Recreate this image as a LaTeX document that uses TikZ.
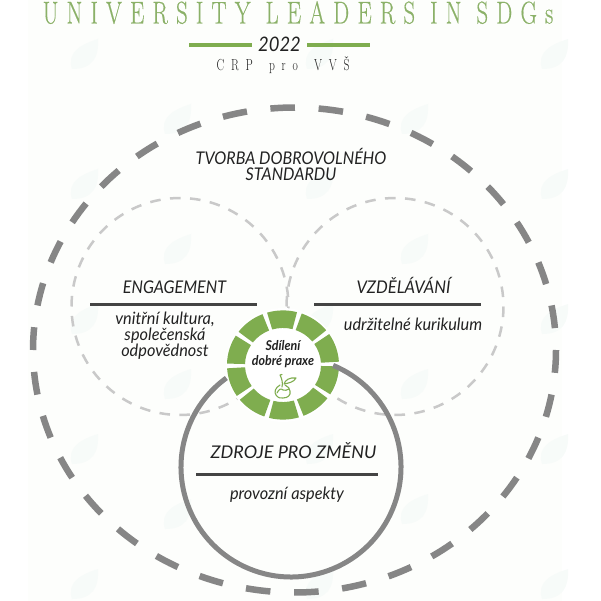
\documentclass[tikz,border=0pt]{standalone}
\usepackage{fontspec}
\setmainfont{Lato}
\newfontfamily\hand{Lato}[FakeStretch=0.92]
\newfontfamily\bodyfont{Lato}[FakeStretch=0.96]
\newfontfamily\titlefont{Latin Modern Roman}[LetterSpace=26,FakeStretch=0.72,FakeBold=0.35]
\newfontfamily\subfont{Latin Modern Roman}[LetterSpace=42,FakeStretch=0.72,WordSpace=1.6]
\definecolor{leafgreen}{HTML}{7FAD4F}
\definecolor{titlegreen}{HTML}{8BB168}
\definecolor{ringgray}{HTML}{868686}
\definecolor{dashgray}{HTML}{C9C9C9}
\definecolor{rulegray}{HTML}{444444}
\definecolor{inktext}{HTML}{222222}
\definecolor{paper}{HTML}{FDFEFC}
\definecolor{faintleaf}{HTML}{F7FBF9}
\tikzset{
 bigdash/.style={draw=ringgray,line width=6.5pt},
 smalldash/.style={draw=dashgray,line width=2.5pt},
 solidring/.style={draw=ringgray,line width=5pt},
 headrule/.style={draw=rulegray,line width=3pt},
 heading/.style={font=\hand\fontsize{17.5}{17}\selectfont\itshape,text=inktext,inner sep=0pt,anchor=base},
 bodytext/.style={font=\bodyfont\fontsize{17}{16.3}\selectfont\itshape,text=inktext,inner sep=0pt,align=center},
 greenbar/.style={draw=leafgreen,line width=4pt},
 wedge/.style={fill=leafgreen,draw=none},
 sprout/.style={draw=leafgreen,line width=1.1pt,line cap=round,line join=round},
}
\begin{document}
\begin{tikzpicture}[x=1pt,y=-1pt]
\useasboundingbox (0,0) rectangle (601,601);
\fill[paper] (28,0) rectangle (562,601);
% faint leaves
\foreach \x/\ylist in {85/{55,185,320,450,585},178/{120,250,385,515},320/{55,185,320,450,585},415/{120,250,385,510},555/{55,185,320,450,585}}{
 \foreach \y in \ylist {
  \fill[faintleaf] (\x-13,\y+14) .. controls (\x-18,\y-2) and (\x-6,\y-10) .. (\x+13,\y-16) .. controls (\x+14,\y+2) and (\x+8,\y+14) .. (\x-13,\y+14) -- cycle;
 }
}
% title
\node[font=\titlefont\fontsize{31.5}{32}\selectfont,text=titlegreen,inner sep=0pt,anchor=base] (title) at (298,23.5) {UNIVERSITY LEADERS IN SDGs};
\node[font=\hand\fontsize{20}{20}\selectfont\itshape,text=inktext,inner sep=0pt,anchor=base] (year) at (279.5,52) {2022};
\coordinate (barAL) at (189,45.5); \coordinate (barAR) at (252,45.5);
\coordinate (barBL) at (307,45.5); \coordinate (barBR) at (370,45.5);
\draw[greenbar] (barAL) -- (barAR);
\draw[greenbar] (barBL) -- (barBR);
\node[font=\subfont\fontsize{16}{16}\selectfont,text=inktext,inner sep=0pt,anchor=base] (sub) at (283,71) {CRP pro VVŠ};
% dashed circles: 34 dashes each
\foreach \k in {0,...,33}{
 \pgfmathsetmacro{\t}{\k*360/34}
 \draw[bigdash] (294.5,350) ++(\t:261.5 and 242.5) arc [start angle=\t,delta angle=5.4,x radius=261.5,y radius=242.5];
 \draw[smalldash] (180,306.5) ++(\t:108.5) arc [start angle=\t,delta angle=5.6,radius=108.5];
 \draw[smalldash] (395,306.5) ++(\t:108.5) arc [start angle=\t,delta angle=5.6,radius=108.5];
}
% ring
\coordinate (ringc) at (283,365);
\fill[white] (ringc) circle [radius=57];
\begin{scope}[shift={(ringc)},yscale=0.975]
\foreach \a in {0,...,9}{
 \pgfmathsetmacro{\c}{269+36*\a}
 \fill[wedge] (\c-15.5:56) arc [start angle=\c-15.5,end angle=\c+15.5,radius=56] -- (\c+15.5:38) arc [start angle=\c+15.5,end angle=\c-15.5,radius=38] -- cycle;
}
\end{scope}
% sprout
\begin{scope}[shift={(ringc)}]
\draw[sprout] (-3,20) .. controls (-8,23) and (-9,27) .. (-7,30) .. controls (-5,33) and (-2,33.5) .. (0,33) .. controls (5,33) and (8,30) .. (7,26) .. controls (7,24) and (5,21) .. (2,20);
\draw[sprout] (-6,28) .. controls (-4,24) and (-2,23) .. (0,25) .. controls (2,26) and (4,25) .. (6,24);
\draw[sprout] (-1,22) .. controls (0,18) and (-1,14) .. (-3,10) -- (-1,9.5);
\draw[sprout] (1,19) .. controls (2,15) and (7,12) .. (13,13) .. controls (11,17) and (6,18) .. (1,19);
\end{scope}
% solid circle
\coordinate (solidc) at (291,467);
\draw[solidring] (solidc) ++(-67.5:110) arc [start angle=-67.5,delta angle=301.5,radius=110];
% texts
\node[heading] (tvorba) at (291,165) {TVORBA DOBROVOLNÉHO};
\node[heading] (tvorbb) at (291,181) {STANDARDU};
\node[heading] (eng) at (174.5,293) {ENGAGEMENT};
\coordinate (engL) at (90,304); \coordinate (engR) at (257,304);
\draw[headrule] (engL) -- (engR);
\node[bodytext] (engb) at (165,335.5) {vnitřní kultura,\\společenská\\odpovědnost};
\node[heading] (vzd) at (403.5,293) {\scalebox{1.03}[1]{VZDĚLÁVÁNÍ}};
\coordinate (vzdL) at (314,304); \coordinate (vzdR) at (481,304);
\draw[headrule] (vzdL) -- (vzdR);
\node[bodytext] (vzdb) at (413,324) {udržitelné kurikulum};
\node[heading] (zdr) at (293.5,458) {\scalebox{1.12}[1]{ZDROJE PRO ZMĚNU}};
\coordinate (zdrL) at (196,474); \coordinate (zdrR) at (378,474);
\draw[headrule] (zdrL) -- (zdrR);
\node[bodytext] (zdrb) at (287,495) {provozní aspekty};
\node[font=\hand\fontsize{13.5}{15}\selectfont\bfseries\itshape,text=inktext,inner sep=0pt,align=center] (sdil) at (283,354.5) {Sdílení\\dobré praxe};
\end{tikzpicture}
\end{document}
